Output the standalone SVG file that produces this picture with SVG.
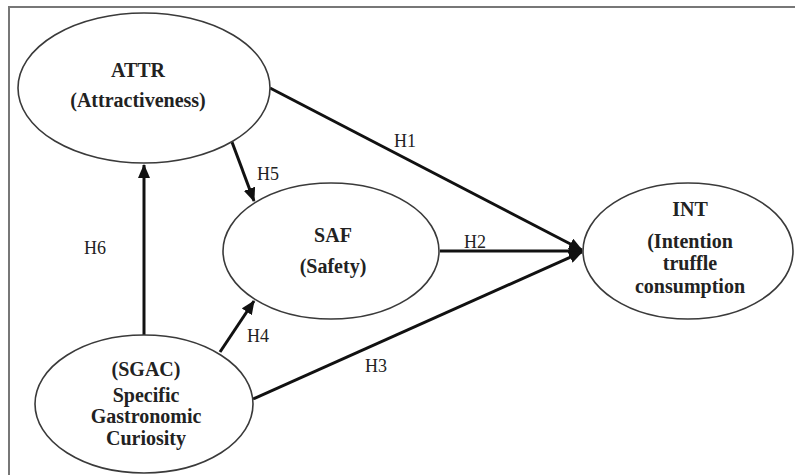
<svg xmlns="http://www.w3.org/2000/svg" width="795" height="475" viewBox="0 0 795 475">
<style>
.node{fill:#fff;stroke:#3a3a3a;stroke-width:1.6}
.lbl{font-family:"Liberation Serif","Times New Roman",serif;font-size:20px;font-weight:bold;fill:#222;text-anchor:middle}
.h{font-family:"Liberation Serif","Times New Roman",serif;font-size:18px;fill:#222;text-anchor:middle}
.edge{stroke:#111;stroke-width:3;fill:none;marker-end:url(#arr)}
.frame{stroke:#777;stroke-width:2;fill:none}
</style>
<defs>
<marker id="arr" markerUnits="userSpaceOnUse" markerWidth="14" markerHeight="12" viewBox="0 0 14 12" refX="13" refY="6" orient="auto">
<path d="M0,0 L14,6 L0,12 Z" fill="#111"/>
</marker>
</defs>
<rect width="795" height="475" fill="#fff"/>
<path class="frame" d="M9,475 L9,7 L795,7"/>
<g id="connectors">
<line class="edge" x1="144" y1="335" x2="144" y2="165"/>
<line class="edge" x1="232" y1="142" x2="254" y2="201"/>
<line class="edge" x1="220" y1="352" x2="254" y2="301"/>
<line class="edge" x1="270" y1="88" x2="582" y2="250"/>
<line class="edge" x1="440" y1="251" x2="582" y2="251"/>
<line class="edge" x1="253" y1="399" x2="582" y2="252"/>
<text class="h" x="405" y="147">H1</text>
<text class="h" x="268" y="180">H5</text>
<text class="h" x="475" y="248">H2</text>
<text class="h" x="95" y="254">H6</text>
<text class="h" x="258" y="342">H4</text>
<text class="h" x="376" y="372">H3</text>
</g>
<g id="ATTR">
<ellipse class="node" cx="144" cy="88" rx="126" ry="75"/>
<text class="lbl" x="138" y="77">ATTR</text>
<text class="lbl" x="138" y="107">(Attractiveness)</text>
</g>
<g id="SAF">
<ellipse class="node" cx="331" cy="251" rx="108" ry="68"/>
<text class="lbl" x="333" y="242">SAF</text>
<text class="lbl" x="333" y="273">(Safety)</text>
</g>
<g id="INT">
<ellipse class="node" cx="688" cy="251" rx="105" ry="68"/>
<text class="lbl" x="690" y="216">INT</text>
<text class="lbl" x="690" y="248">(Intention</text>
<text class="lbl" x="690" y="270">truffle</text>
<text class="lbl" x="690" y="293">consumption</text>
</g>
<g id="SGAC">
<ellipse class="node" cx="144" cy="404" rx="109" ry="69"/>
<text class="lbl" x="146" y="376">(SGAC)</text>
<text class="lbl" x="146" y="402">Specific</text>
<text class="lbl" x="146" y="423">Gastronomic</text>
<text class="lbl" x="146" y="445">Curiosity</text>
</g>
</svg>
